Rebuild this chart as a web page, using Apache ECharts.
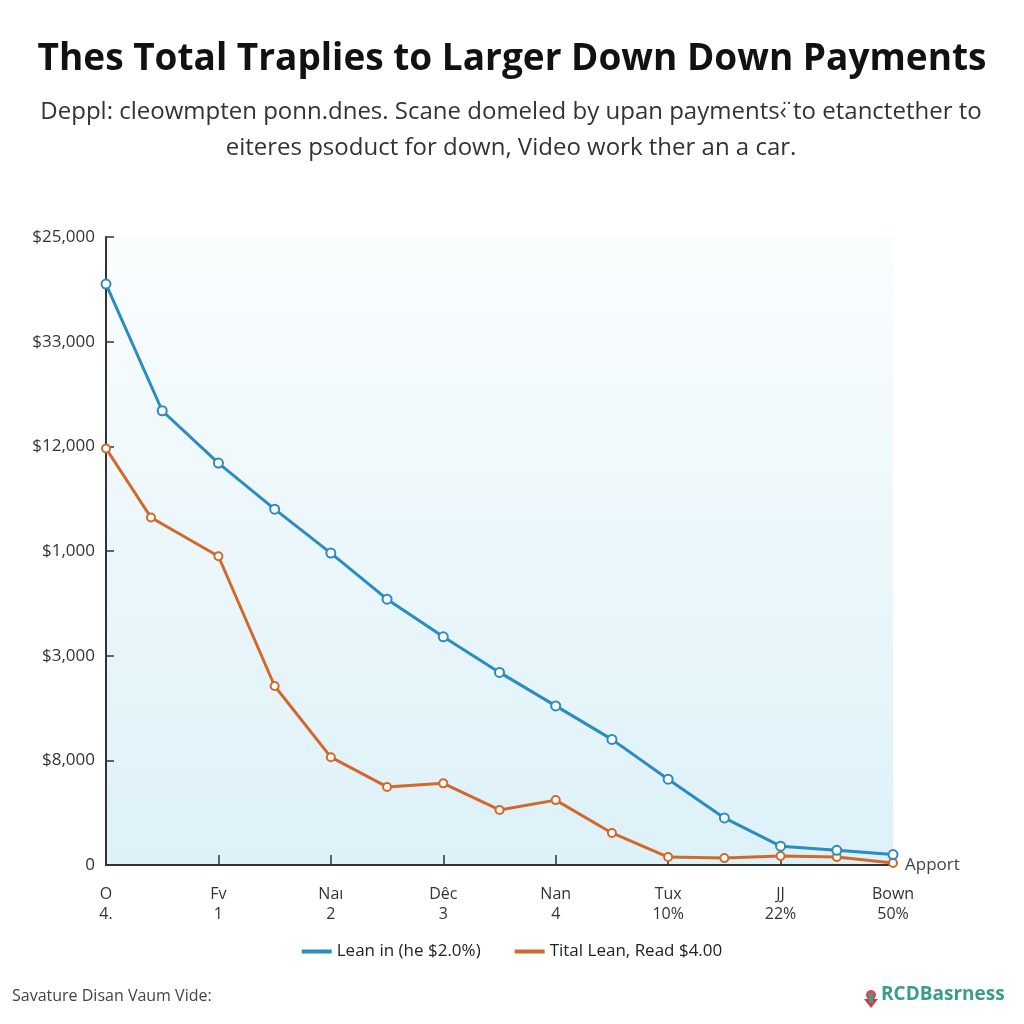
<!DOCTYPE html>
<html>
<head>
<meta charset="utf-8">
<script src="https://cdn.jsdelivr.net/npm/echarts@6/dist/echarts.min.js"></script>
<style>
html,body{margin:0;padding:0;background:#fff;}
#chart{width:1024px;height:1024px;}
</style>
</head>
<body>
<div id="chart"></div>
<script>
// ---- data ----
const titleText = 'Thes Total Traplies to Larger Down Down Payments';
const subtitleText = 'Deppl: cleowmpten ponn.dnes. Scane domeled by upan payments‹̈ to etanctether to\neiteres psoduct for down, Video work ther an a car.';
const xTickTop = ['O', 'Fv', 'Naı', 'Dêc', 'Nan', 'Tux', 'JJ', 'Bown'];
const xTickBottom = ['4.', '1', '2', '3', '4', '10%', '22%', '50%'];
const yTickLabels = ['0', '$8,000', '$3,000', '$1,000', '$12,000', '$33,000', '$25,000'];
const xAxisName = 'Apport';
const seriesNames = ['Lean in (he $2.0%)', 'Tital Lean, Read $4.00'];
const blueX = [0, 0.5, 1, 1.5, 2, 2.5, 3, 3.5, 4, 4.5, 5, 5.5, 6, 6.5, 7];
const blueY = [27750, 21700, 19200, 17000, 14900, 12700, 10900, 9200, 7600, 6000, 4100, 2250, 900, 700, 500];
const orangeX = [0, 0.4, 1, 1.5, 2, 2.5, 3, 3.5, 4, 4.5, 5, 5.5, 6, 6.5, 7];
const orangeY = [19900, 16600, 14750, 8550, 5150, 3730, 3900, 2630, 3100, 1530, 380, 330, 430, 380, 100];
const footerLeft = 'Savature Disan Vaum Vide:';
const footerRight = 'RCDBasrness';

const pairs = (xs, ys) => xs.map((x, i) => [x, ys[i]]);

const chart = echarts.init(document.getElementById('chart'));
const blue = '#2a8cbf';
const orange = '#d2692c';
const font = '"Open Sans", "Noto Sans", sans-serif';

chart.setOption({
  backgroundColor: '#ffffff',
  textStyle: { fontFamily: font },
  title: {
    text: titleText,
    left: 'center', top: 36,
    textStyle: { fontSize: 37, fontWeight: 'bold', color: '#111', fontFamily: font }
  },
  legend: {
    bottom: 59,
    left: 'center',
    icon: 'rect',
    itemWidth: 30,
    itemHeight: 4,
    itemGap: 34,
    textStyle: { fontSize: 17, color: '#222' },
    data: [
      { name: seriesNames[0], itemStyle: { color: blue, borderWidth: 0 } },
      { name: seriesNames[1], itemStyle: { color: orange, borderWidth: 0 } }
    ]
  },
  grid: {
    left: 106, right: 131, top: 237, bottom: 159,
    show: true,
    borderWidth: 0,
    backgroundColor: new echarts.graphic.LinearGradient(0, 0, 0, 1, [
      { offset: 0, color: '#fafdfe' },
      { offset: 1, color: '#ddf1f8' }
    ])
  },
  xAxis: {
    type: 'value',
    min: 0, max: 7, interval: 1,
    name: xAxisName,
    nameLocation: 'end',
    nameGap: 12,
    nameTextStyle: { fontSize: 17, color: '#444', verticalAlign: 'middle' },
    axisLine: { show: true, lineStyle: { color: '#333', width: 2 } },
    axisTick: { show: true, inside: true, length: 10, lineStyle: { color: '#333', width: 1.5 } },
    splitLine: { show: false },
    axisLabel: {
      margin: 19,
      fontSize: 16,
      color: '#333',
      lineHeight: 20,
      formatter: v => (Number.isInteger(v) ? xTickTop[v] + '\n' + xTickBottom[v] : '')
    }
  },
  yAxis: {
    type: 'value',
    min: 0, max: 30000, interval: 5000,
    axisLine: { show: true, lineStyle: { color: '#333', width: 2 } },
    axisTick: { show: true, inside: true, length: 8, lineStyle: { color: '#333', width: 1.5 } },
    splitLine: { show: false },
    axisLabel: {
      margin: 11,
      fontSize: 17,
      color: '#333',
      formatter: v => yTickLabels[Math.round(v / 5000)]
    }
  },
  series: [
    {
      name: seriesNames[0],
      type: 'line',
      data: pairs(blueX, blueY),
      lineStyle: { width: 3, color: blue },
      symbol: 'emptyCircle',
      symbolSize: 9,
      itemStyle: { color: blue, borderWidth: 2.5 },
      z: 3
    },
    {
      name: seriesNames[1],
      type: 'line',
      data: pairs(orangeX, orangeY),
      lineStyle: { width: 3, color: orange },
      symbol: 'emptyCircle',
      symbolSize: 8,
      itemStyle: { color: orange, borderWidth: 2.5 },
      z: 2
    }
  ],
  graphic: [
    {
      type: 'text', x: 511, y: 94,
      style: { text: subtitleText, fontSize: 24, fill: '#333', fontFamily: font, align: 'center', lineHeight: 36 }
    },
    {
      type: 'text', left: 12, top: 988,
      style: { text: footerLeft, fontSize: 16, fill: '#444', fontFamily: font }
    },
    {
      type: 'group', left: 864, top: 990,
      children: [
        { type: 'circle', shape: { cx: 7, cy: 6, r: 5 }, style: { fill: '#d9485a' } },
        { type: 'polygon', shape: { points: [[0, 10], [14, 10], [7, 19]] }, style: { fill: '#c9384c' } },
        { type: 'rect', shape: { x: 5, y: 4, width: 4, height: 10 }, style: { fill: '#3aa37a' } }
      ]
    },
    {
      type: 'text', left: 881, top: 985,
      style: { text: footerRight, fontSize: 19, fontWeight: 'bold', fill: '#3b9c8c', fontFamily: font }
    }
  ]
});
</script>
</body>
</html>
